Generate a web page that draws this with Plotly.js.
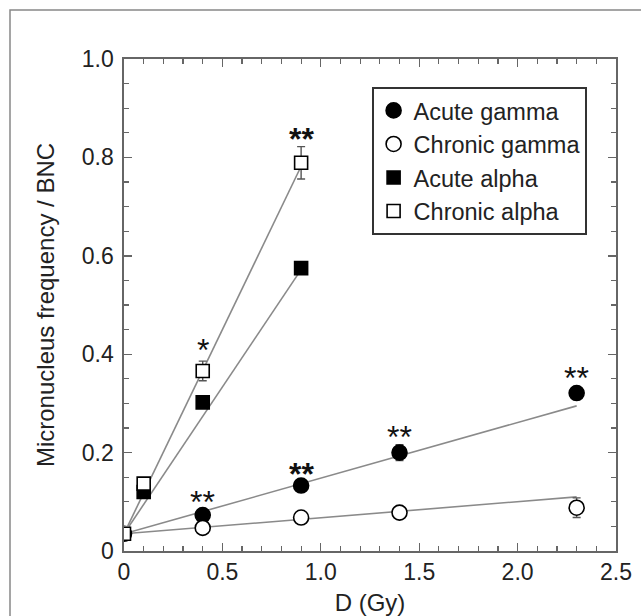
<!DOCTYPE html>
<html>
<head>
<meta charset="utf-8">
<script src="https://cdn.plot.ly/plotly-3.0.1.min.js"></script>
<style>
html,body{margin:0;padding:0;background:#fff;}
#chart{width:641px;height:616px;}
</style>
</head>
<body>
<div id="chart"></div>
<script>
// ---- data ----
const seriesNames = ["Acute gamma", "Chronic gamma", "Acute alpha", "Chronic alpha"];

const acuteGammaX = [0, 0.4, 0.9, 1.4, 2.3];
const acuteGammaY = [0.035, 0.073, 0.133, 0.200, 0.321];
const acuteGammaErr = [0.004, 0.006, 0.008, 0.016, 0.013];

const chronicGammaX = [0.4, 0.9, 1.4, 2.3];
const chronicGammaY = [0.047, 0.068, 0.078, 0.088];
const chronicGammaErr = [0.005, 0.005, 0.005, 0.02];

const acuteAlphaX = [0.1, 0.4, 0.9];
const acuteAlphaY = [0.120, 0.302, 0.575];
const acuteAlphaErr = [0.006, 0.008, 0.008];

const chronicAlphaX = [0, 0.1, 0.4, 0.9];
const chronicAlphaY = [0.035, 0.137, 0.366, 0.789];
const chronicAlphaErr = [0.005, 0.006, 0.02, 0.033];

// linear fits (endpoints)
const fitAcuteGammaX = [0, 2.3];
const fitAcuteGammaY = [0.035, 0.295];
const fitChronicGammaX = [0, 2.3];
const fitChronicGammaY = [0.035, 0.110];
const fitAcuteAlphaX = [0, 0.9];
const fitAcuteAlphaY = [0.035, 0.572];
const fitChronicAlphaX = [0, 0.9];
const fitChronicAlphaY = [0.035, 0.782];

// significance marks
const sigX = [0.9, 0.4, 0.4, 0.9, 1.4, 2.3];
const sigY = [0.789, 0.366, 0.073, 0.133, 0.200, 0.321];
const sigText = ["**", "*", "**", "**", "**", "**"];
const sigBold = [true, false, false, true, false, false];

const xTickVals = [0, 0.5, 1.0, 1.5, 2.0, 2.5];
const xTickText = ["0", "0.5", "1.0", "1.5", "2.0", "2.5"];
const yTickVals = [0, 0.2, 0.4, 0.6, 0.8, 1.0];
const yTickText = ["0", "0.2", "0.4", "0.6", "0.8", "1.0"];

// ---- styling ----
const FONT = "Liberation Sans, Arial, sans-serif";
const TXT = "#222";
const LINEC = "#8a8a8a";
const ERRC = "#555";

function fit(x, y) {
  return {x: x, y: y, mode: "lines", type: "scatter", showlegend: false, hoverinfo: "skip",
          line: {color: LINEC, width: 1.6}};
}
function pts(name, x, y, err, symbol, filled, size) {
  return {
    name: name, x: x, y: y, type: "scatter", mode: "markers",
    error_y: {type: "data", array: err, visible: true, color: ERRC, thickness: 1.4, width: 4},
    marker: {symbol: symbol, size: size, color: filled ? "#000" : "#fff",
             line: {color: "#000", width: 1.6}}
  };
}

const traces = [
  fit(fitAcuteGammaX, fitAcuteGammaY),
  fit(fitChronicGammaX, fitChronicGammaY),
  fit(fitAcuteAlphaX, fitAcuteAlphaY),
  fit(fitChronicAlphaX, fitChronicAlphaY),
  pts(seriesNames[0], acuteGammaX, acuteGammaY, acuteGammaErr, "circle", true, 15),
  pts(seriesNames[1], chronicGammaX, chronicGammaY, chronicGammaErr, "circle", false, 15),
  pts(seriesNames[2], acuteAlphaX, acuteAlphaY, acuteAlphaErr, "square", true, 13),
  pts(seriesNames[3], chronicAlphaX, chronicAlphaY, chronicAlphaErr, "square", false, 13)
];

const sigShift = [24, 21, 13, 12, 16, 15];
const annotations = sigX.map((x, i) => ({
  x: x, y: sigY[i], xref: "x", yref: "y",
  text: sigBold[i] ? "<b>" + sigText[i] + "</b>" : sigText[i], showarrow: false,
  yshift: sigShift[i], font: {family: FONT, size: 32, color: "#111"}
}));

const L = 124, R = 25, T = 59, B = 65, W = 641, H = 616;
const pw = W - L - R, ph = H - T - B;

const axisCommon = {
  showline: true, linecolor: "#666", linewidth: 1.6, mirror: "ticks",
  ticks: "inside", ticklen: 8, tickwidth: 1.4, tickcolor: "#666",
  showgrid: false, zeroline: false, tickmode: "array",
  tickfont: {family: FONT, size: 23, color: TXT}
};

const layout = {
  width: W, height: H,
  margin: {l: L, r: R, t: T, b: B, pad: 0},
  paper_bgcolor: "#fff", plot_bgcolor: "#fff",
  font: {family: FONT, color: TXT},
  xaxis: Object.assign({}, axisCommon, {
    range: [0, 2.5], tickvals: xTickVals, ticktext: xTickText,
    minor: {tickmode: "linear", tick0: 0, dtick: 0.1, ticks: "inside", ticklen: 5, tickwidth: 1.2, tickcolor: "#666"},
    title: {text: "D (Gy)", font: {family: FONT, size: 24, color: TXT}, standoff: 16}
  }),
  yaxis: Object.assign({}, axisCommon, {
    range: [0, 1.0], tickvals: yTickVals, ticktext: yTickText, ticklabelstandoff: 4,
    minor: {tickmode: "linear", tick0: 0, dtick: 0.05, ticks: "inside", ticklen: 5, tickwidth: 1.2, tickcolor: "#666"},
    title: {text: "Micronucleus frequency / BNC", font: {family: FONT, size: 24, color: TXT}, standoff: 20}
  }),
  legend: {
    x: (372 - L) / pw, y: (551 - 87) / ph, xanchor: "left", yanchor: "top",
    bordercolor: "#333", borderwidth: 1.6, bgcolor: "#fff",
    font: {family: FONT, size: 23.5, color: TXT},
    itemwidth: 30, tracegroupgap: 0
  },
  annotations: annotations,
  shapes: [{
    type: "rect", xref: "paper", yref: "paper",
    x0: (10 - L) / pw, x1: (W + 5 - L) / pw,
    y0: -(H + 5 - (T + ph)) / ph, y1: (T + ph - 10) / ph,
    line: {color: "#888", width: 1.5}, fillcolor: "rgba(0,0,0,0)", layer: "below"
  }]
};

Plotly.newPlot("chart", traces, layout, {displayModeBar: false, staticPlot: true});
</script>
</body>
</html>
